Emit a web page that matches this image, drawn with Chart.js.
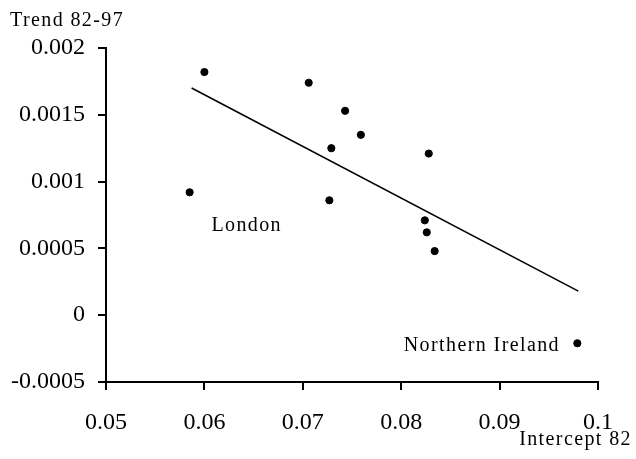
<!DOCTYPE html>
<html>
<head>
<meta charset="utf-8">
<script src="https://cdn.jsdelivr.net/npm/chart.js@4/dist/chart.umd.min.js"></script>
<style>
  html, body { margin: 0; padding: 0; background: #fff; }
  #wrap { width: 636px; height: 459px; position: relative; }
</style>
</head>
<body>
<div id="wrap"><canvas id="c" width="636" height="459"></canvas></div>
<script>
// Data
const intercept82 = [0.0600, 0.0585, 0.0706, 0.0743, 0.0759, 0.0729, 0.0828, 0.0727, 0.0824, 0.0826, 0.0834, 0.0979];
const trend8297   = [0.00182, 0.00092, 0.00174, 0.00153, 0.00135, 0.00125, 0.00121, 0.00086, 0.00071, 0.00062, 0.00048, -0.00021];
const fitX = [0.0587, 0.0980];
const fitY = [0.00170, 0.00018];
const noteText = ['London', 'Northern Ireland'];
const noteX = [0.0643, 0.0882];
const noteY = [0.00063, -0.000268];
const xTicks = [0.05, 0.06, 0.07, 0.08, 0.09, 0.1];
const yTicks = [-0.0005, 0, 0.0005, 0.001, 0.0015, 0.002];
const yAxisTitle = 'Trend 82-97';
const xAxisTitle = 'Intercept 82';

const SERIF = '"Liberation Serif", "Times New Roman", serif';

const textPlugin = {
  id: 'texts',
  afterDraw(chart) {
    const ctx = chart.ctx;
    const xs = chart.scales.x, ys = chart.scales.y;
    ctx.save();
    ctx.fillStyle = '#000';
    ctx.textBaseline = 'alphabetic';
    ctx.font = '20px ' + SERIF;
    if ('letterSpacing' in ctx) ctx.letterSpacing = '1.4px';
    ctx.textAlign = 'left';
    ctx.fillText(yAxisTitle, 10, 26);
    ctx.textAlign = 'right';
    ctx.fillText(xAxisTitle, 632, 445);
    ctx.textAlign = 'center';
    for (let i = 0; i < noteText.length; i++) {
      ctx.fillText(noteText[i], xs.getPixelForValue(noteX[i]), ys.getPixelForValue(noteY[i]));
    }
    if ('letterSpacing' in ctx) ctx.letterSpacing = '0px';
    ctx.restore();
  }
};

const fmt = v => parseFloat(Number(v).toFixed(6)).toString();

new Chart(document.getElementById('c'), {
  type: 'scatter',
  data: {
    datasets: [
      {
        data: intercept82.map((x, i) => ({ x, y: trend8297[i] })),
        backgroundColor: '#000',
        borderColor: '#000',
        pointRadius: 3.6,
        pointHoverRadius: 3.6,
        showLine: false
      },
      {
        data: fitX.map((x, i) => ({ x, y: fitY[i] })),
        borderColor: '#000',
        borderWidth: 1.6,
        pointRadius: 0,
        showLine: true,
        fill: false
      }
    ]
  },
  options: {
    responsive: false,
    animation: false,
    events: [],
    layout: { padding: { top: 48, right: 38, bottom: 0, left: 0 } },
    plugins: { legend: { display: false }, tooltip: { enabled: false }, title: { display: false } },
    scales: {
      x: {
        type: 'linear',
        min: 0.05, max: 0.1,
        afterBuildTicks: s => { s.ticks = xTicks.map(v => ({ value: v })); },
        afterFit: s => { s.height = 77; },
        border: { display: true, color: '#000', width: 2 },
        grid: { display: true, drawOnChartArea: false, drawTicks: true, tickLength: 8, color: '#000', lineWidth: 2 },
        ticks: { color: '#000', font: { family: SERIF, size: 24 }, padding: 18, maxRotation: 0, callback: fmt }
      },
      y: {
        type: 'linear',
        min: -0.0005, max: 0.002,
        afterBuildTicks: s => { s.ticks = yTicks.map(v => ({ value: v })); },
        afterFit: s => { s.width = 106; },
        border: { display: true, color: '#000', width: 2 },
        grid: { display: true, drawOnChartArea: false, drawTicks: true, tickLength: 8, color: '#000', lineWidth: 2 },
        ticks: { color: '#000', font: { family: SERIF, size: 24 }, padding: 13, callback: fmt }
      }
    }
  },
  plugins: [textPlugin]
});
</script>
</body>
</html>
